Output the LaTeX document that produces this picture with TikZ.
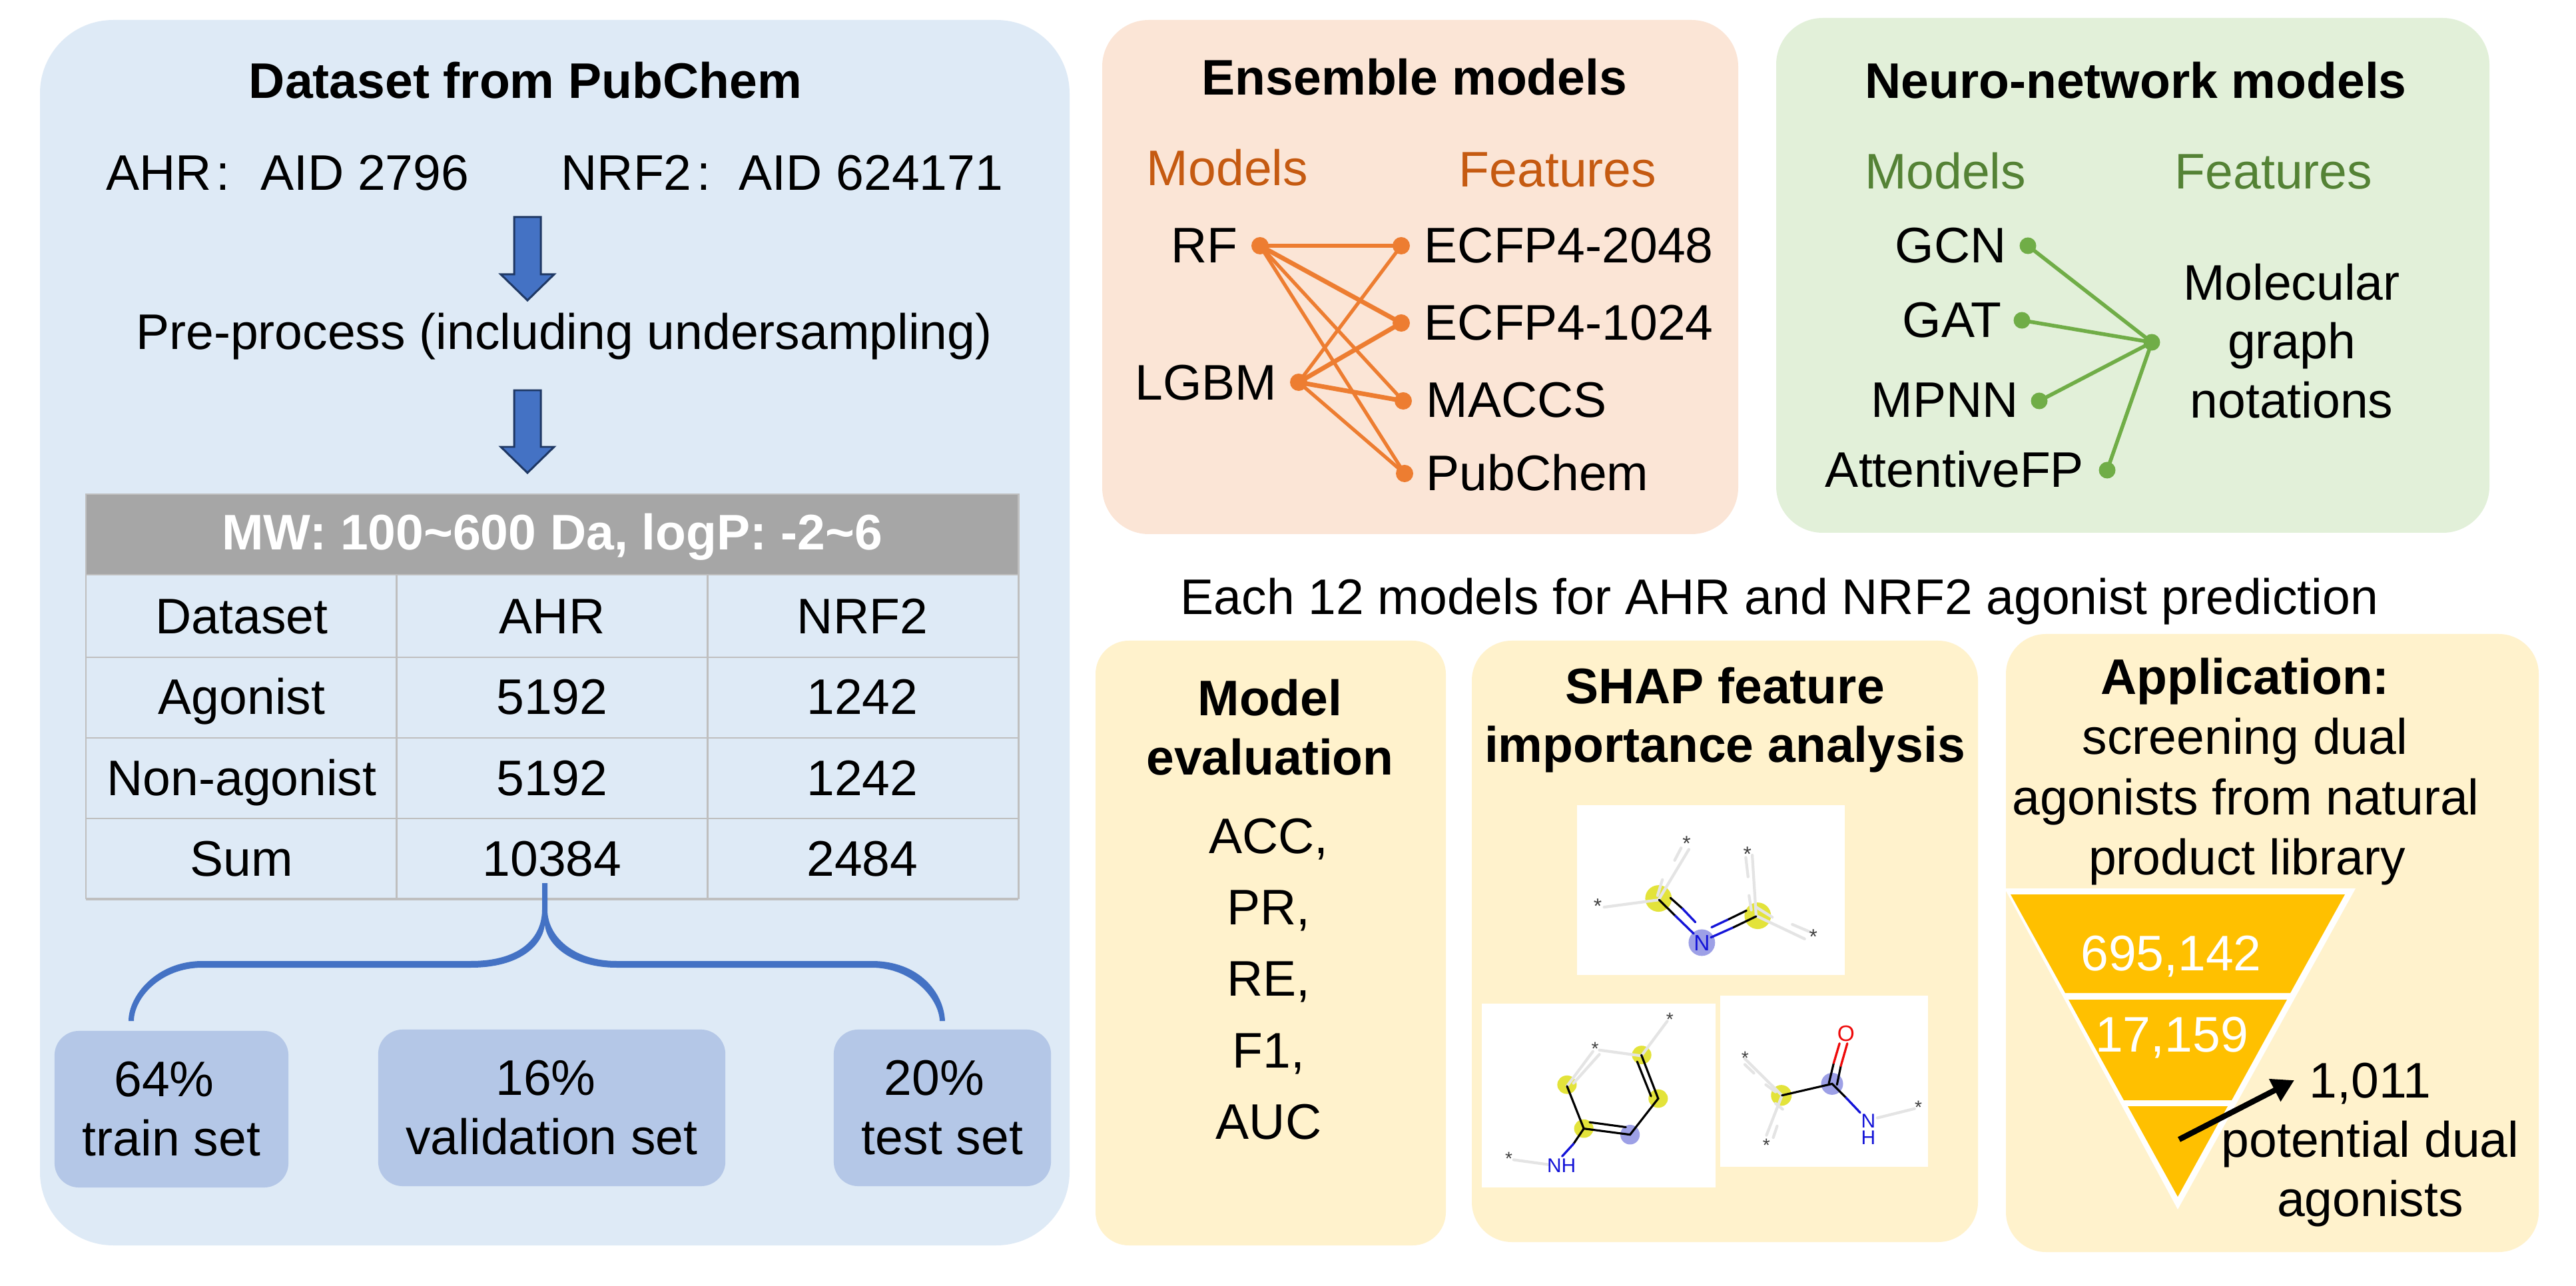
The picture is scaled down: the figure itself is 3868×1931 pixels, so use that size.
\documentclass[tikz,border=0pt]{standalone}
\usepackage{fontspec}
\setmainfont{Liberation Sans}
\usetikzlibrary{arrows.meta}
\definecolor{pblue}{HTML}{DEEAF6}
\definecolor{porange}{HTML}{FBE5D6}
\definecolor{pgreen}{HTML}{E2F0D9}
\definecolor{pyellow}{HTML}{FFF2CC}
\definecolor{setbox}{HTML}{B4C7E7}
\definecolor{mainblue}{HTML}{4472C4}
\definecolor{darkblue}{HTML}{1F3864}
\definecolor{orangeline}{HTML}{ED7D31}
\definecolor{orangetext}{HTML}{C55A11}
\definecolor{greenline}{HTML}{70AD47}
\definecolor{greentext}{HTML}{548235}
\definecolor{funnel}{HTML}{FFC000}
\definecolor{tablehead}{HTML}{A6A6A6}
\definecolor{tableline}{HTML}{BFBFBF}
\definecolor{molgray}{HTML}{E4E4E4}
\definecolor{molyellow}{HTML}{E3E33A}
\definecolor{molblue}{HTML}{9DA0E6}
\definecolor{molb}{HTML}{1414D8}
\definecolor{molr}{HTML}{EE0A0A}
\tikzset{
  txt/.style={anchor=base,inner sep=0pt,font=\fontsize{21.35}{25}\selectfont,text=black},
  btxt/.style={txt,font=\fontsize{21.35}{25}\selectfont\bfseries},
  block/.style={anchor=center,inner sep=0pt,align=center,font=\fontsize{21.35}{25.2}\selectfont,text=black},
  panel/.style={rounded corners=#1,draw=none},
  setnode/.style={rounded corners=1.1cm/3,fill=setbox,anchor=center,inner sep=0pt,align=center,font=\fontsize{21.35}{25.3}\selectfont,text=black},
  dotor/.style={circle,fill=orangeline,minimum size=0.26cm,inner sep=0pt},
  dotgr/.style={circle,fill=greenline,minimum size=0.25cm,inner sep=0pt},
  orl/.style={draw=orangeline,line width=1.5pt},
  orlt/.style={draw=orangeline,line width=1.95pt},
  grl/.style={draw=greenline,line width=1.6pt},
  blockarrow/.style={fill=mainblue,draw=darkblue,line width=0.85pt,line join=miter},
  tab/.style={draw=tableline,line width=0.85pt},
  gb/.style={draw=molgray,line width=1.2pt},
  kb/.style={draw=black,line width=0.9pt},
  bb/.style={draw=molb,line width=0.95pt},
  rb/.style={draw=molr,line width=0.95pt},
  star/.style={inner sep=0pt,anchor=center,font=\fontsize{9}{9}\selectfont,text=black!75,yshift=-0.05cm},
  atm/.style={inner sep=0pt,anchor=center,font=\fontsize{9.5}{9.5}\selectfont}
}
\begin{document}
\begin{tikzpicture}[x=0.01cm,y=-0.01cm]
\useasboundingbox (0,0) rectangle (3868,1931);
\fill[white] (0,0) rectangle (3868,1931);
% panels
\fill[pblue,panel=1.1cm] (60,30) rectangle (1606,1870);
\fill[porange,panel=0.7cm] (1655,30) rectangle (2610,802);
\fill[pgreen,panel=0.7cm] (2667,27) rectangle (3738,800);
\fill[pyellow,panel=0.5cm] (1645,962) rectangle (2171,1870);
\fill[pyellow,panel=0.6cm] (2210,962) rectangle (2970,1865);
\fill[pyellow,panel=0.6cm] (3012,952) rectangle (3812,1880);
% dataset panel
\node[btxt] (dstitle) at (789,148) {Dataset from PubChem};
\node[txt,anchor=base west] (ahr) at (159,286) {AHR\hspace{0.06cm}:\hspace{0.46cm}AID 2796};
\node[txt,anchor=base west] (nrf) at (842,286) {NRF2\hspace{0.08cm}:\hspace{0.42cm}AID 624171};
\draw[blockarrow] (772,326) -- (812,326) -- (812,412) -- (832,412) -- (792,451) -- (752,412) -- (772,412) -- cycle;
\node[txt] (pre) at (847,525) {Pre-process (including undersampling)};
\draw[blockarrow] (772,586) -- (812,586) -- (812,671) -- (832,671) -- (792,710) -- (752,671) -- (772,671) -- cycle;
% table
\fill[tablehead] (129,742) rectangle (1529,863);
\draw[tab] (129,742) rectangle (1529,863);
\foreach \yy in {987,1108,1229} {\draw[tab] (129,\yy) -- (1529,\yy);}
\draw[tab] (129,863) -- (129,1350);
\draw[tab] (1529,863) -- (1529,1350);
\draw[tab] (595,863) -- (595,1350);
\draw[tab] (1062,863) -- (1062,1350);
\draw[draw=tableline,line width=1.1pt] (129,1350) -- (1529,1350);
\node[btxt,text=white] (thead) at (829,826) {MW: 100\textasciitilde600 Da, logP: -2\textasciitilde6};
\node[txt] (t11) at (363,952) {Dataset};
\node[txt] (t12) at (829,952) {AHR};
\node[txt] (t13) at (1295,952) {NRF2};
\node[txt] (t21) at (363,1073) {Agonist};
\node[txt] (t22) at (829,1073) {5192};
\node[txt] (t23) at (1295,1073) {1242};
\node[txt] (t31) at (363,1195) {Non-agonist};
\node[txt] (t32) at (829,1195) {5192};
\node[txt] (t33) at (1295,1195) {1242};
\node[txt] (t41) at (363,1315) {Sum};
\node[txt] (t42) at (829,1315) {10384};
\node[txt] (t43) at (1295,1315) {2484};
% brace
\fill[mainblue] (814,1326) -- (814,1366) .. controls (814,1405) and (785,1443) .. (707,1443) -- (304,1443)
  .. controls (235,1443) and (193,1495) .. (193,1533) -- (201,1533) .. controls (201,1500) and (240,1453) .. (304,1453)
  -- (707,1453) .. controls (780,1453) and (815,1420) .. (818,1388) .. controls (821,1420) and (860,1453) .. (926,1453)
  -- (1309,1453) .. controls (1370,1453) and (1410,1500) .. (1411,1533) -- (1419,1533) .. controls (1417,1490) and (1380,1443) .. (1309,1443)
  -- (926,1443) .. controls (860,1443) and (822,1405) .. (822,1366) -- (822,1326) -- cycle;
% set boxes
\node[setnode,minimum width=3.51cm,minimum height=2.35cm] (train) at (257.5,1665.5) {64\%\hspace*{0.22cm}\\train set};
\node[setnode,minimum width=5.21cm,minimum height=2.35cm] (val) at (828.5,1663.5) {16\%\hspace*{0.18cm}\\validation set};
\node[setnode,minimum width=3.26cm,minimum height=2.35cm] (testb) at (1415,1663.5) {20\%\hspace*{0.24cm}\\test set};
% ensemble panel
\node[btxt] (enst) at (2124,143) {Ensemble models};
\node[txt,text=orangetext] (em) at (1843,279) {Models};
\node[txt,text=orangetext] (ef) at (2339,281) {Features};
\node[txt,anchor=base east] (rf) at (1859,395) {RF};
\node[txt,anchor=base east] (lgbm) at (1918,601) {LGBM};
\node[txt,anchor=base west] (e2048) at (2138,395) {ECFP4-2048};
\node[txt,anchor=base west] (e1024) at (2138,511) {ECFP4-1024};
\node[txt,anchor=base west] (macc) at (2141,627) {MACCS};
\node[txt,anchor=base west] (pubc) at (2141,737) {PubChem};
\node[dotor] (drf) at (1892,369) {};
\node[dotor] (dlg) at (1950,574) {};
\node[dotor] (d2048) at (2104,369) {};
\node[dotor] (d1024) at (2104,485) {};
\node[dotor] (dmacc) at (2107,602) {};
\node[dotor] (dpub) at (2109,711) {};
\draw[orlt] (drf.center) -- (d2048.center);
\draw[orlt] (drf.center) -- (d1024.center);
\draw[orl] (drf.center) -- (dmacc.center);
\draw[orl] (drf.center) -- (dpub.center);
\draw[orl] (dlg.center) -- (d2048.center);
\draw[orlt] (dlg.center) -- (d1024.center);
\draw[orlt] (dlg.center) -- (dmacc.center);
\draw[orl] (dlg.center) -- (dpub.center);
% neural panel
\node[btxt] (nnt) at (3207,148) {Neuro-network models};
\node[txt,text=greentext] (nm) at (2921,284) {Models};
\node[txt,text=greentext] (nf) at (3414,284) {Features};
\node[txt] (gcn) at (2929,395) {GCN};
\node[txt] (gat) at (2931,507) {GAT};
\node[txt] (mpnn) at (2920,627) {MPNN};
\node[txt] (afp) at (2935,732) {AttentiveFP};
\node[block] (mol) at (3441,512) {Molecular\\graph\\notations};
\node[dotgr] (dgcn) at (3045,369) {};
\node[dotgr] (dgat) at (3036,481) {};
\node[dotgr] (dmp) at (3062,602) {};
\node[dotgr] (daf) at (3164,706) {};
\node[dotgr] (dhub) at (3231,514) {};
\draw[grl] (dgcn.center) -- (dhub.center);
\draw[grl] (dgat.center) -- (dhub.center);
\draw[grl] (dmp.center) -- (dhub.center);
\draw[grl] (daf.center) -- (dhub.center);
% caption
\node[txt] (cap) at (2672,923) {Each 12 models for AHR and NRF2 agonist prediction};
% evaluation
\node[block,font=\fontsize{21.35}{25.2}\selectfont\bfseries] (evalt) at (1907,1092) {Model\\evaluation};
\node[block,font=\fontsize{21.35}{30.5}\selectfont] (evall) at (1905,1470) {ACC,\\PR,\\RE,\\F1,\\AUC};
% SHAP
\node[block,font=\fontsize{21.35}{25.2}\selectfont\bfseries] (shap) at (2590,1081) {SHAP feature\\importance analysis};
\fill[white] (2368,1209) rectangle (2770,1464);
\fill[white] (2225,1507) rectangle (2576,1783);
\fill[white] (2583,1495) rectangle (2895,1752);
\begin{scope}[shift={(2200,1180)},x=0.004847cm,y=-0.004337cm,line cap=round]
 % molecule A
 \fill[molyellow] (598,390) ellipse (41 and 46);
 \fill[molyellow] (905,450) ellipse (41 and 46);
 \fill[molblue] (732,543) ellipse (41 and 46);
 \draw[gb] (430,420) -- (598,395) -- (692,220);
 \draw[gb] (648,258) -- (668,215);
 \draw[gb] (610,325) -- (595,380);
 \draw[gb] (900,450) -- (888,240);
 \draw[gb] (868,248) -- (875,315);
 \draw[gb] (878,380) -- (885,430);
 \draw[gb] (900,450) -- (1050,530);
 \draw[gb] (1012,480) -- (1065,505);
 \draw[gb] (900,420) -- (950,455);
 \draw[kb] (600,395) -- (650,450);
 \draw[bb] (650,450) -- (707,512);
 \draw[kb] (635,388) -- (672,425);
 \draw[bb] (672,425) -- (712,472);
 \draw[bb] (760,525) -- (830,490);
 \draw[kb] (830,490) -- (900,452);
 \draw[bb] (762,490) -- (815,462);
 \draw[kb] (815,462) -- (870,432);
 \node[star] (sa1) at (685,188) {*};
 \node[star] (sa2) at (873,225) {*};
 \node[star] (sa3) at (1077,512) {*};
 \node[star] (sa4) at (410,405) {*};
 \node[atm,text=molb] (na) at (732,545) {N};
 % molecule B
 \fill[molyellow] (546,932) ellipse (30 and 32);
 \fill[molyellow] (315,1035) ellipse (30 and 32);
 \fill[molyellow] (597,1083) ellipse (30 and 32);
 \fill[molyellow] (367,1187) ellipse (30 and 32);
 \fill[molblue] (510,1208) ellipse (30 and 34);
 \draw[gb] (150,1295) -- (260,1312);
 \draw[gb] (415,915) -- (545,935) -- (625,815);
 \draw[gb] (395,920) -- (315,1040);
 \draw[gb] (415,930) -- (335,1030);
 \draw[kb] (315,1040) -- (367,1187) -- (510,1208) -- (597,1083) -- (545,932);
 \draw[kb] (385,1165) -- (497,1182);
 \draw[kb] (575,1075) -- (532,955);
 \draw[kb] (367,1187) -- (335,1240);
 \draw[bb] (335,1240) -- (300,1283);
 \node[star,font=\fontsize{8}{8}\selectfont] (sb1) at (633,797) {*};
 \node[star,font=\fontsize{8}{8}\selectfont] (sb2) at (402,900) {*};
 \node[star,font=\fontsize{8}{8}\selectfont] (sb3) at (135,1280) {*};
 \node[atm,font=\fontsize{8.5}{8.5}\selectfont,text=molb] (nb) at (298,1315) {NH};
 % molecule C
 \fill[molyellow] (978,1072) ellipse (32 and 36);
 \fill[molblue] (1135,1032) ellipse (34 and 38);
 \draw[gb] (865,945) -- (980,1072) -- (932,1210);
 \draw[gb] (865,965) -- (893,995);
 \draw[gb] (930,1035) -- (960,1060);
 \draw[gb] (965,1178) -- (953,1218);
 \draw[gb] (960,1100) -- (982,1120);
 \draw[gb] (1275,1150) -- (1390,1118);
 \draw[kb] (980,1072) -- (1135,1032) -- (1178,1080);
 \draw[bb] (1178,1080) -- (1222,1132);
 \draw[kb] (1125,1030) -- (1140,960);
 \draw[rb] (1140,960) -- (1158,892);
 \draw[kb] (1150,1035) -- (1162,970);
 \draw[rb] (1162,970) -- (1182,892);
 \node[star,font=\fontsize{8}{8}\selectfont] (sc1) at (866,932) {*};
 \node[star,font=\fontsize{8}{8}\selectfont] (sc2) at (932,1233) {*};
 \node[star,font=\fontsize{8}{8}\selectfont] (sc3) at (1402,1103) {*};
 \node[atm,text=molr] (oc) at (1178,858) {O};
 \node[atm,font=\fontsize{8.5}{8.5}\selectfont,text=molb] (nc) at (1247,1160) {N};
 \node[atm,font=\fontsize{8.5}{8.5}\selectfont,text=molb] (hc) at (1247,1218) {H};
\end{scope}
% application
\node[btxt] (app) at (3371,1043) {Application:};
\node[txt] (a1) at (3371,1133) {screening dual};
\node[txt] (a2) at (3372,1223) {agonists from natural};
\node[txt] (a3) at (3374,1313) {product library};
\fill[white] (3010,1334) -- (3537,1334) -- (3270,1816) -- cycle;
\fill[funnel] (3019,1343) -- (3521,1343) -- (3439,1491) -- (3101,1491) -- cycle;
\fill[funnel] (3106,1501) -- (3434,1501) -- (3351,1652) -- (3189,1652) -- cycle;
\fill[funnel] (3195,1661) -- (3345,1661) -- (3270,1797) -- cycle;
\node[txt,text=white] (f1) at (3260,1457) {695,142};
\node[txt,text=white] (f2) at (3261,1579) {17,159};
\node[block] (res) at (3559,1719) {1,011\\potential dual\\agonists};
\coordinate (arrs) at (3272,1711);
\coordinate (arre) at (3445,1622);
\draw[black,line width=2.4pt,-{Triangle[length=0.33cm,width=0.36cm]}] (arrs) -- (arre);
\end{tikzpicture}
\end{document}
